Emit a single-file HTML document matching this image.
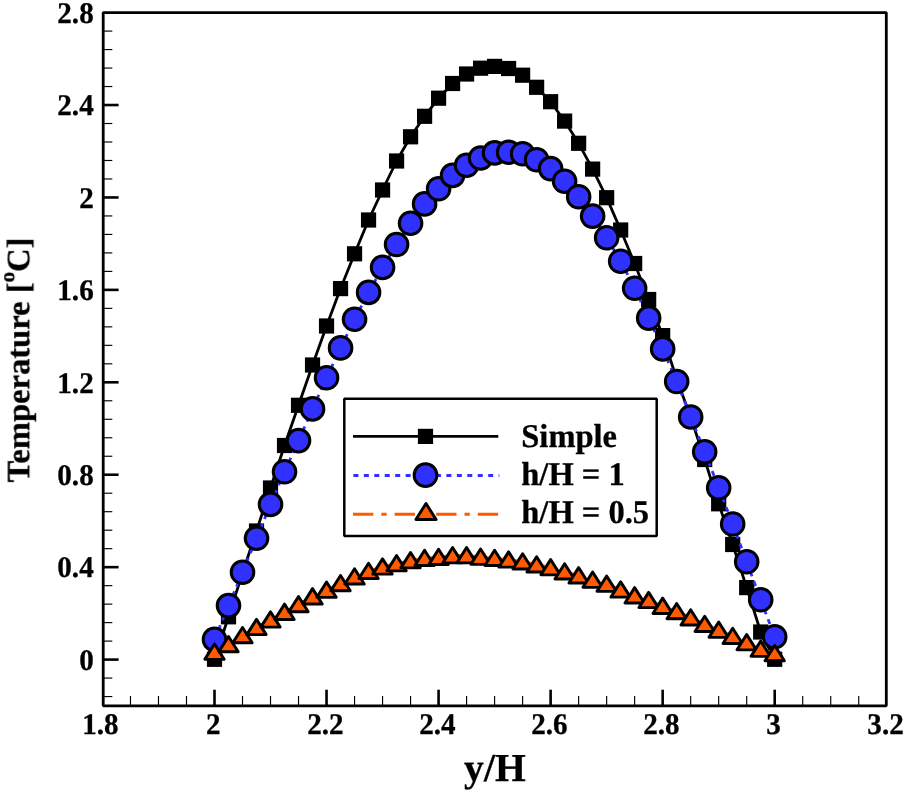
<!DOCTYPE html>
<html><head><meta charset="utf-8"><title>Temperature vs y/H</title>
<style>
html,body{margin:0;padding:0;background:#fff;}
body{width:905px;height:793px;overflow:hidden;}
svg{display:block;}
text{font-family:"Liberation Serif",serif;font-weight:bold;text-rendering:geometricPrecision;fill:#000;stroke:#000;stroke-width:0.3px;}
.tk{font-size:30px;}
.lg{font-size:32.5px;}
</style></head><body>
<svg width="905" height="793" viewBox="0 0 905 793">
<rect x="0" y="0" width="905" height="793" fill="#fff"/>
<defs><filter id="soft" x="0" y="0" width="905" height="793" filterUnits="userSpaceOnUse" color-interpolation-filters="sRGB"><feGaussianBlur stdDeviation="0.45"/></filter></defs>
<g filter="url(#soft)">
<g stroke="#000" fill="none" stroke-linecap="butt">
<line x1="130.47" y1="705.80" x2="130.47" y2="696.00" stroke-width="1.15"/>
<line x1="158.48" y1="705.80" x2="158.48" y2="696.00" stroke-width="1.15"/>
<line x1="186.49" y1="705.80" x2="186.49" y2="696.00" stroke-width="1.15"/>
<line x1="214.50" y1="705.80" x2="214.50" y2="689.70" stroke-width="2.60"/>
<line x1="242.51" y1="705.80" x2="242.51" y2="696.00" stroke-width="1.15"/>
<line x1="270.52" y1="705.80" x2="270.52" y2="696.00" stroke-width="1.15"/>
<line x1="298.53" y1="705.80" x2="298.53" y2="696.00" stroke-width="1.15"/>
<line x1="326.54" y1="705.80" x2="326.54" y2="689.70" stroke-width="2.60"/>
<line x1="354.55" y1="705.80" x2="354.55" y2="696.00" stroke-width="1.15"/>
<line x1="382.56" y1="705.80" x2="382.56" y2="696.00" stroke-width="1.15"/>
<line x1="410.57" y1="705.80" x2="410.57" y2="696.00" stroke-width="1.15"/>
<line x1="438.58" y1="705.80" x2="438.58" y2="689.70" stroke-width="2.60"/>
<line x1="466.59" y1="705.80" x2="466.59" y2="696.00" stroke-width="1.15"/>
<line x1="494.60" y1="705.80" x2="494.60" y2="696.00" stroke-width="1.15"/>
<line x1="522.61" y1="705.80" x2="522.61" y2="696.00" stroke-width="1.15"/>
<line x1="550.62" y1="705.80" x2="550.62" y2="689.70" stroke-width="2.60"/>
<line x1="578.63" y1="705.80" x2="578.63" y2="696.00" stroke-width="1.15"/>
<line x1="606.64" y1="705.80" x2="606.64" y2="696.00" stroke-width="1.15"/>
<line x1="634.65" y1="705.80" x2="634.65" y2="696.00" stroke-width="1.15"/>
<line x1="662.66" y1="705.80" x2="662.66" y2="689.70" stroke-width="2.60"/>
<line x1="690.67" y1="705.80" x2="690.67" y2="696.00" stroke-width="1.15"/>
<line x1="718.68" y1="705.80" x2="718.68" y2="696.00" stroke-width="1.15"/>
<line x1="746.69" y1="705.80" x2="746.69" y2="696.00" stroke-width="1.15"/>
<line x1="774.70" y1="705.80" x2="774.70" y2="689.70" stroke-width="2.60"/>
<line x1="802.71" y1="705.80" x2="802.71" y2="696.00" stroke-width="1.15"/>
<line x1="830.72" y1="705.80" x2="830.72" y2="696.00" stroke-width="1.15"/>
<line x1="858.73" y1="705.80" x2="858.73" y2="696.00" stroke-width="1.15"/>
<line x1="103.20" y1="696.56" x2="112.30" y2="696.56" stroke-width="1.15"/>
<line x1="103.20" y1="678.07" x2="112.30" y2="678.07" stroke-width="1.15"/>
<line x1="103.20" y1="659.59" x2="118.60" y2="659.59" stroke-width="2.60"/>
<line x1="103.20" y1="641.10" x2="112.30" y2="641.10" stroke-width="1.15"/>
<line x1="103.20" y1="622.62" x2="112.30" y2="622.62" stroke-width="1.15"/>
<line x1="103.20" y1="604.13" x2="112.30" y2="604.13" stroke-width="1.15"/>
<line x1="103.20" y1="585.65" x2="112.30" y2="585.65" stroke-width="1.15"/>
<line x1="103.20" y1="567.16" x2="118.60" y2="567.16" stroke-width="2.60"/>
<line x1="103.20" y1="548.67" x2="112.30" y2="548.67" stroke-width="1.15"/>
<line x1="103.20" y1="530.19" x2="112.30" y2="530.19" stroke-width="1.15"/>
<line x1="103.20" y1="511.70" x2="112.30" y2="511.70" stroke-width="1.15"/>
<line x1="103.20" y1="493.22" x2="112.30" y2="493.22" stroke-width="1.15"/>
<line x1="103.20" y1="474.73" x2="118.60" y2="474.73" stroke-width="2.60"/>
<line x1="103.20" y1="456.25" x2="112.30" y2="456.25" stroke-width="1.15"/>
<line x1="103.20" y1="437.76" x2="112.30" y2="437.76" stroke-width="1.15"/>
<line x1="103.20" y1="419.28" x2="112.30" y2="419.28" stroke-width="1.15"/>
<line x1="103.20" y1="400.79" x2="112.30" y2="400.79" stroke-width="1.15"/>
<line x1="103.20" y1="382.31" x2="118.60" y2="382.31" stroke-width="2.60"/>
<line x1="103.20" y1="363.82" x2="112.30" y2="363.82" stroke-width="1.15"/>
<line x1="103.20" y1="345.34" x2="112.30" y2="345.34" stroke-width="1.15"/>
<line x1="103.20" y1="326.85" x2="112.30" y2="326.85" stroke-width="1.15"/>
<line x1="103.20" y1="308.37" x2="112.30" y2="308.37" stroke-width="1.15"/>
<line x1="103.20" y1="289.88" x2="118.60" y2="289.88" stroke-width="2.60"/>
<line x1="103.20" y1="271.39" x2="112.30" y2="271.39" stroke-width="1.15"/>
<line x1="103.20" y1="252.91" x2="112.30" y2="252.91" stroke-width="1.15"/>
<line x1="103.20" y1="234.42" x2="112.30" y2="234.42" stroke-width="1.15"/>
<line x1="103.20" y1="215.94" x2="112.30" y2="215.94" stroke-width="1.15"/>
<line x1="103.20" y1="197.45" x2="118.60" y2="197.45" stroke-width="2.60"/>
<line x1="103.20" y1="178.97" x2="112.30" y2="178.97" stroke-width="1.15"/>
<line x1="103.20" y1="160.48" x2="112.30" y2="160.48" stroke-width="1.15"/>
<line x1="103.20" y1="142.00" x2="112.30" y2="142.00" stroke-width="1.15"/>
<line x1="103.20" y1="123.51" x2="112.30" y2="123.51" stroke-width="1.15"/>
<line x1="103.20" y1="105.03" x2="118.60" y2="105.03" stroke-width="2.60"/>
<line x1="103.20" y1="86.54" x2="112.30" y2="86.54" stroke-width="1.15"/>
<line x1="103.20" y1="68.06" x2="112.30" y2="68.06" stroke-width="1.15"/>
<line x1="103.20" y1="49.57" x2="112.30" y2="49.57" stroke-width="1.15"/>
<line x1="103.20" y1="31.09" x2="112.30" y2="31.09" stroke-width="1.15"/>
</g>
<rect x="103.20" y="12.60" width="783.10" height="693.20" fill="none" stroke="#000" stroke-width="2.80" stroke-linejoin="bevel"/>
<text class="tk" transform="translate(100.46,734.30) scale(0.97,1.0)" text-anchor="middle">1.8</text>
<text class="tk" transform="translate(213.30,734.30) scale(0.97,1.0)" text-anchor="middle">2</text>
<text class="tk" transform="translate(325.34,734.30) scale(0.97,1.0)" text-anchor="middle">2.2</text>
<text class="tk" transform="translate(437.38,734.30) scale(0.97,1.0)" text-anchor="middle">2.4</text>
<text class="tk" transform="translate(549.42,734.30) scale(0.97,1.0)" text-anchor="middle">2.6</text>
<text class="tk" transform="translate(661.46,734.30) scale(0.97,1.0)" text-anchor="middle">2.8</text>
<text class="tk" transform="translate(773.50,734.30) scale(0.97,1.0)" text-anchor="middle">3</text>
<text class="tk" transform="translate(885.54,734.30) scale(0.97,1.0)" text-anchor="middle">3.2</text>
<text class="tk" transform="translate(93.70,669.79) scale(0.97,1.0)" text-anchor="end">0</text>
<text class="tk" transform="translate(93.70,577.36) scale(0.97,1.0)" text-anchor="end">0.4</text>
<text class="tk" transform="translate(93.70,484.93) scale(0.97,1.0)" text-anchor="end">0.8</text>
<text class="tk" transform="translate(93.70,392.51) scale(0.97,1.0)" text-anchor="end">1.2</text>
<text class="tk" transform="translate(93.70,300.08) scale(0.97,1.0)" text-anchor="end">1.6</text>
<text class="tk" transform="translate(93.70,207.65) scale(0.97,1.0)" text-anchor="end">2</text>
<text class="tk" transform="translate(93.70,115.23) scale(0.97,1.0)" text-anchor="end">2.4</text>
<text class="tk" transform="translate(93.70,22.80) scale(0.97,1.0)" text-anchor="end">2.8</text>
<text x="494.90" y="781.40" text-anchor="middle" style="font-size:39.6px">y/H</text>
<text transform="translate(29.20,359.90) rotate(-90)" text-anchor="middle" style="font-size:32.6px">Temperature [<tspan dy="-15.5" style="font-size:21px">o</tspan><tspan dy="15.5">C]</tspan></text>
<polyline points="214.50,659.30 228.50,616.80 242.51,573.00 256.52,531.00 270.52,488.00 284.52,445.50 298.53,405.30 312.53,365.00 326.54,326.00 340.55,288.60 354.55,253.80 368.55,220.00 382.56,190.00 396.57,161.00 410.57,136.80 424.58,116.30 438.58,98.20 452.58,83.50 466.59,74.00 480.60,68.20 494.60,66.40 508.60,68.50 522.61,75.20 536.62,87.30 550.62,101.70 564.62,121.10 578.63,143.30 592.63,169.10 606.64,197.70 620.65,230.00 634.65,263.50 648.65,299.50 662.66,335.60 676.67,379.00 690.67,417.00 704.68,459.50 718.68,503.80 732.68,544.50 746.69,587.60 760.70,632.00 774.70,659.30" fill="none" stroke="#000" stroke-width="2.8" stroke-linejoin="round"/>
<g fill="#000">
<rect x="206.90" y="651.70" width="15.20" height="15.20"/>
<rect x="220.90" y="609.20" width="15.20" height="15.20"/>
<rect x="234.91" y="565.40" width="15.20" height="15.20"/>
<rect x="248.92" y="523.40" width="15.20" height="15.20"/>
<rect x="262.92" y="480.40" width="15.20" height="15.20"/>
<rect x="276.92" y="437.90" width="15.20" height="15.20"/>
<rect x="290.93" y="397.70" width="15.20" height="15.20"/>
<rect x="304.93" y="357.40" width="15.20" height="15.20"/>
<rect x="318.94" y="318.40" width="15.20" height="15.20"/>
<rect x="332.95" y="281.00" width="15.20" height="15.20"/>
<rect x="346.95" y="246.20" width="15.20" height="15.20"/>
<rect x="360.95" y="212.40" width="15.20" height="15.20"/>
<rect x="374.96" y="182.40" width="15.20" height="15.20"/>
<rect x="388.97" y="153.40" width="15.20" height="15.20"/>
<rect x="402.97" y="129.20" width="15.20" height="15.20"/>
<rect x="416.98" y="108.70" width="15.20" height="15.20"/>
<rect x="430.98" y="90.60" width="15.20" height="15.20"/>
<rect x="444.98" y="75.90" width="15.20" height="15.20"/>
<rect x="458.99" y="66.40" width="15.20" height="15.20"/>
<rect x="473.00" y="60.60" width="15.20" height="15.20"/>
<rect x="487.00" y="58.80" width="15.20" height="15.20"/>
<rect x="501.00" y="60.90" width="15.20" height="15.20"/>
<rect x="515.01" y="67.60" width="15.20" height="15.20"/>
<rect x="529.02" y="79.70" width="15.20" height="15.20"/>
<rect x="543.02" y="94.10" width="15.20" height="15.20"/>
<rect x="557.02" y="113.50" width="15.20" height="15.20"/>
<rect x="571.03" y="135.70" width="15.20" height="15.20"/>
<rect x="585.03" y="161.50" width="15.20" height="15.20"/>
<rect x="599.04" y="190.10" width="15.20" height="15.20"/>
<rect x="613.05" y="222.40" width="15.20" height="15.20"/>
<rect x="627.05" y="255.90" width="15.20" height="15.20"/>
<rect x="641.05" y="291.90" width="15.20" height="15.20"/>
<rect x="655.06" y="328.00" width="15.20" height="15.20"/>
<rect x="669.07" y="371.40" width="15.20" height="15.20"/>
<rect x="683.07" y="409.40" width="15.20" height="15.20"/>
<rect x="697.08" y="451.90" width="15.20" height="15.20"/>
<rect x="711.08" y="496.20" width="15.20" height="15.20"/>
<rect x="725.08" y="536.90" width="15.20" height="15.20"/>
<rect x="739.09" y="580.00" width="15.20" height="15.20"/>
<rect x="753.10" y="624.40" width="15.20" height="15.20"/>
<rect x="767.10" y="651.70" width="15.20" height="15.20"/>
</g>
<path d="M214.50 639.40 L228.50 605.60 M228.50 605.60 L242.51 572.20 M242.51 572.20 L256.52 538.20 M256.52 538.20 L270.52 504.40 M270.52 504.40 L284.52 471.80 M284.52 471.80 L298.53 440.60 M298.53 440.60 L312.53 408.90 M312.53 408.90 L326.54 377.80 M326.54 377.80 L340.55 347.90 M340.55 347.90 L354.55 319.30 M354.55 319.30 L368.55 292.40 M368.55 292.40 L382.56 267.40 M382.56 267.40 L396.57 244.50 M396.57 244.50 L410.57 223.30 M410.57 223.30 L424.58 203.90 M424.58 203.90 L438.58 188.70 M438.58 188.70 L452.58 175.40 M452.58 175.40 L466.59 165.30 M466.59 165.30 L480.60 158.00 M480.60 158.00 L494.60 152.90 M494.60 152.90 L508.60 152.20 M508.60 152.20 L522.61 153.70 M522.61 153.70 L536.62 159.70 M536.62 159.70 L550.62 168.60 M550.62 168.60 L564.62 181.20 M564.62 181.20 L578.63 196.80 M578.63 196.80 L592.63 216.10 M592.63 216.10 L606.64 237.80 M606.64 237.80 L620.65 261.30 M620.65 261.30 L634.65 288.20 M634.65 288.20 L648.65 318.10 M648.65 318.10 L662.66 348.90 M662.66 348.90 L676.67 381.50 M676.67 381.50 L690.67 417.00 M690.67 417.00 L704.68 451.70 M704.68 451.70 L718.68 487.80 M718.68 487.80 L732.68 524.00 M732.68 524.00 L746.69 561.70 M746.69 561.70 L760.70 599.80 M760.70 599.80 L774.70 636.80" fill="none" stroke="#3030ff" stroke-width="2.8" stroke-dasharray="5 5.4"/>
<g fill="#3030ff" stroke="#000" stroke-width="3.00">
<circle cx="214.50" cy="639.40" r="11.30"/>
<circle cx="228.50" cy="605.60" r="11.30"/>
<circle cx="242.51" cy="572.20" r="11.30"/>
<circle cx="256.52" cy="538.20" r="11.30"/>
<circle cx="270.52" cy="504.40" r="11.30"/>
<circle cx="284.52" cy="471.80" r="11.30"/>
<circle cx="298.53" cy="440.60" r="11.30"/>
<circle cx="312.53" cy="408.90" r="11.30"/>
<circle cx="326.54" cy="377.80" r="11.30"/>
<circle cx="340.55" cy="347.90" r="11.30"/>
<circle cx="354.55" cy="319.30" r="11.30"/>
<circle cx="368.55" cy="292.40" r="11.30"/>
<circle cx="382.56" cy="267.40" r="11.30"/>
<circle cx="396.57" cy="244.50" r="11.30"/>
<circle cx="410.57" cy="223.30" r="11.30"/>
<circle cx="424.58" cy="203.90" r="11.30"/>
<circle cx="438.58" cy="188.70" r="11.30"/>
<circle cx="452.58" cy="175.40" r="11.30"/>
<circle cx="466.59" cy="165.30" r="11.30"/>
<circle cx="480.60" cy="158.00" r="11.30"/>
<circle cx="494.60" cy="152.90" r="11.30"/>
<circle cx="508.60" cy="152.20" r="11.30"/>
<circle cx="522.61" cy="153.70" r="11.30"/>
<circle cx="536.62" cy="159.70" r="11.30"/>
<circle cx="550.62" cy="168.60" r="11.30"/>
<circle cx="564.62" cy="181.20" r="11.30"/>
<circle cx="578.63" cy="196.80" r="11.30"/>
<circle cx="592.63" cy="216.10" r="11.30"/>
<circle cx="606.64" cy="237.80" r="11.30"/>
<circle cx="620.65" cy="261.30" r="11.30"/>
<circle cx="634.65" cy="288.20" r="11.30"/>
<circle cx="648.65" cy="318.10" r="11.30"/>
<circle cx="662.66" cy="348.90" r="11.30"/>
<circle cx="676.67" cy="381.50" r="11.30"/>
<circle cx="690.67" cy="417.00" r="11.30"/>
<circle cx="704.68" cy="451.70" r="11.30"/>
<circle cx="718.68" cy="487.80" r="11.30"/>
<circle cx="732.68" cy="524.00" r="11.30"/>
<circle cx="746.69" cy="561.70" r="11.30"/>
<circle cx="760.70" cy="599.80" r="11.30"/>
<circle cx="774.70" cy="636.80" r="11.30"/>
</g>
<polyline points="214.50,652.10 228.50,644.50 242.51,635.50 256.52,627.40 270.52,619.90 284.52,612.20 298.53,604.50 312.53,596.70 326.54,590.10 340.55,583.50 354.55,576.80 368.55,571.30 382.56,566.90 396.57,563.60 410.57,560.60 424.58,558.30 438.58,557.30 452.58,555.60 466.59,555.60 480.60,557.10 494.60,558.30 508.60,559.90 522.61,561.80 536.62,564.80 550.62,567.60 564.62,571.80 578.63,575.70 592.63,580.10 606.64,584.10 620.65,589.90 634.65,595.70 648.65,600.40 662.66,606.20 676.67,611.50 690.67,617.80 704.68,624.30 718.68,630.10 732.68,636.30 746.69,642.60 760.70,649.10 774.70,653.50" fill="none" stroke="#ff5a00" stroke-width="3" stroke-dasharray="20.3 8 5.3 8"/>
<g fill="#ff5a00" stroke="#000" stroke-width="2.90" stroke-linejoin="round">
<path d="M214.50 644.05 L224.20 659.35 L204.80 659.35 Z"/>
<path d="M228.50 636.45 L238.20 651.75 L218.80 651.75 Z"/>
<path d="M242.51 627.45 L252.21 642.75 L232.81 642.75 Z"/>
<path d="M256.52 619.35 L266.22 634.65 L246.82 634.65 Z"/>
<path d="M270.52 611.85 L280.22 627.15 L260.82 627.15 Z"/>
<path d="M284.52 604.15 L294.22 619.45 L274.82 619.45 Z"/>
<path d="M298.53 596.45 L308.23 611.75 L288.83 611.75 Z"/>
<path d="M312.53 588.65 L322.23 603.95 L302.83 603.95 Z"/>
<path d="M326.54 582.05 L336.24 597.35 L316.84 597.35 Z"/>
<path d="M340.55 575.45 L350.25 590.75 L330.85 590.75 Z"/>
<path d="M354.55 568.75 L364.25 584.05 L344.85 584.05 Z"/>
<path d="M368.55 563.25 L378.25 578.55 L358.85 578.55 Z"/>
<path d="M382.56 558.85 L392.26 574.15 L372.86 574.15 Z"/>
<path d="M396.57 555.55 L406.27 570.85 L386.87 570.85 Z"/>
<path d="M410.57 552.55 L420.27 567.85 L400.87 567.85 Z"/>
<path d="M424.58 550.25 L434.28 565.55 L414.88 565.55 Z"/>
<path d="M438.58 549.25 L448.28 564.55 L428.88 564.55 Z"/>
<path d="M452.58 547.55 L462.28 562.85 L442.88 562.85 Z"/>
<path d="M466.59 547.55 L476.29 562.85 L456.89 562.85 Z"/>
<path d="M480.60 549.05 L490.30 564.35 L470.90 564.35 Z"/>
<path d="M494.60 550.25 L504.30 565.55 L484.90 565.55 Z"/>
<path d="M508.60 551.85 L518.30 567.15 L498.90 567.15 Z"/>
<path d="M522.61 553.75 L532.31 569.05 L512.91 569.05 Z"/>
<path d="M536.62 556.75 L546.32 572.05 L526.92 572.05 Z"/>
<path d="M550.62 559.55 L560.32 574.85 L540.92 574.85 Z"/>
<path d="M564.62 563.75 L574.33 579.05 L554.92 579.05 Z"/>
<path d="M578.63 567.65 L588.33 582.95 L568.93 582.95 Z"/>
<path d="M592.63 572.05 L602.34 587.35 L582.93 587.35 Z"/>
<path d="M606.64 576.05 L616.34 591.35 L596.94 591.35 Z"/>
<path d="M620.65 581.85 L630.35 597.15 L610.95 597.15 Z"/>
<path d="M634.65 587.65 L644.35 602.95 L624.95 602.95 Z"/>
<path d="M648.65 592.35 L658.36 607.65 L638.95 607.65 Z"/>
<path d="M662.66 598.15 L672.36 613.45 L652.96 613.45 Z"/>
<path d="M676.67 603.45 L686.37 618.75 L666.97 618.75 Z"/>
<path d="M690.67 609.75 L700.37 625.05 L680.97 625.05 Z"/>
<path d="M704.68 616.25 L714.38 631.55 L694.98 631.55 Z"/>
<path d="M718.68 622.05 L728.38 637.35 L708.98 637.35 Z"/>
<path d="M732.68 628.25 L742.38 643.55 L722.98 643.55 Z"/>
<path d="M746.69 634.55 L756.39 649.85 L736.99 649.85 Z"/>
<path d="M760.70 641.05 L770.40 656.35 L751.00 656.35 Z"/>
<path d="M774.70 645.45 L784.40 660.75 L765.00 660.75 Z"/>
</g>
<rect x="344.30" y="398.80" width="312.40" height="137.30" fill="#fff" stroke="#000" stroke-width="2.5" stroke-linejoin="bevel"/>
<line x1="353.00" y1="436.40" x2="498.30" y2="436.40" stroke="#000" stroke-width="2.8"/>
<rect x="417.90" y="428.80" width="15.20" height="15.20" fill="#000"/>
<line x1="353.40" y1="475.60" x2="425.50" y2="475.60" stroke="#3030ff" stroke-width="3" stroke-dasharray="5 5.45"/>
<line x1="425.50" y1="475.60" x2="499.30" y2="475.60" stroke="#3030ff" stroke-width="3" stroke-dasharray="5 5.45"/>
<circle cx="425.50" cy="475.20" r="11.35" fill="#3030ff" stroke="#000" stroke-width="3.00"/>
<line x1="353.00" y1="514.20" x2="498.30" y2="514.20" stroke="#ff5a00" stroke-width="3" stroke-dasharray="20.3 8 5.3 8"/>
<path d="M426.00 503.55 L436.10 519.55 L415.90 519.55 Z" fill="#ff5a00" stroke="#000" stroke-width="2.90" stroke-linejoin="round"/>
<text class="lg" transform="translate(521.3,447.4) scale(1,1.02)">Simple</text>
<text class="lg" transform="translate(521.3,485.4) scale(1,1.02)">h/H = 1</text>
<text class="lg" transform="translate(521.3,523.4) scale(1,1.02)">h/H = 0.5</text>
</g>
</svg>
</body></html>
